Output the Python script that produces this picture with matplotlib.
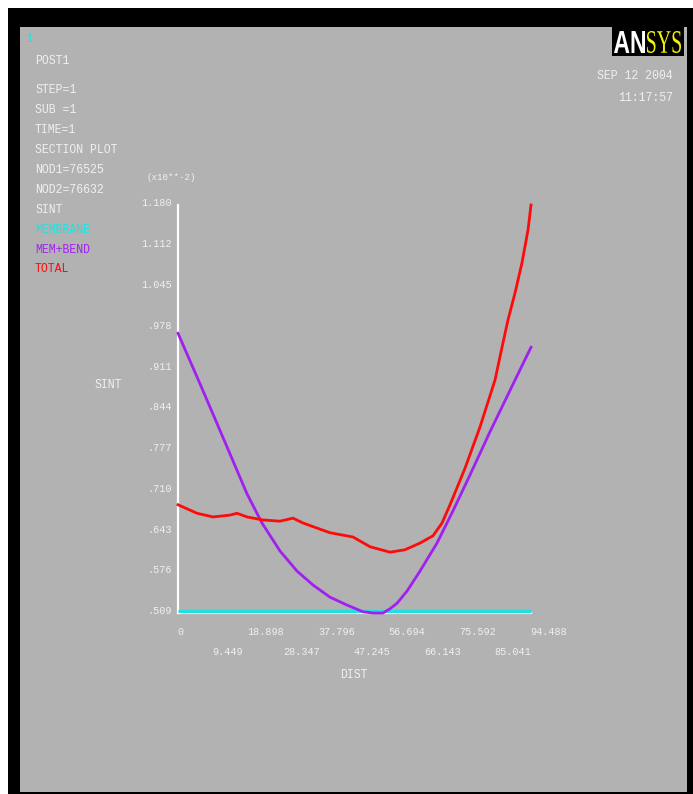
import matplotlib
matplotlib.use("Agg")
import matplotlib.pyplot as plt
import matplotlib.transforms as mtransforms
from matplotlib.patches import Rectangle, PathPatch
from matplotlib.textpath import TextPath
from matplotlib.font_manager import FontProperties
import numpy as np

# ---- data (SINT in units of 1e-2) ----
dist_total = [0, 5.09, 9.37, 13.92, 15.79, 18.47, 22.75, 27.30, 30.78, 33.46,
              40.69, 46.84, 51.39, 56.75, 60.76, 64.78, 68.26, 70.67, 72.81,
              76.82, 80.84, 84.85, 86.73, 88.33, 90.20, 92.08, 93.69, 94.488]
sint_total = [0.687, 0.673, 0.667, 0.670, 0.673, 0.667, 0.662, 0.660, 0.665, 0.657,
              0.641, 0.634, 0.618, 0.609, 0.613, 0.624, 0.636, 0.657, 0.687,
              0.747, 0.815, 0.892, 0.946, 0.991, 1.035, 1.085, 1.139, 1.180]

dist_bend = [0, 5.89, 12.58, 18.47, 22.48, 27.30, 31.85, 36.14, 40.69, 45.24,
             49.52, 52.20, 54.88, 56.75, 58.62, 61.30, 64.78, 69.33, 73.61, 78.16,
             83.51, 90.20, 94.488]
sint_bend = [0.969, 0.886, 0.790, 0.705, 0.657, 0.611, 0.578, 0.555, 0.535, 0.522,
             0.511, 0.509, 0.509, 0.516, 0.525, 0.545, 0.578, 0.624, 0.677, 0.736,
             0.807, 0.892, 0.946]

dist_membrane = [0, 94.488]
sint_membrane = [0.513, 0.513]

y_ticks = [0.509, 0.576, 0.643, 0.710, 0.777, 0.844, 0.911, 0.978, 1.045, 1.112, 1.180]
y_labels = [".509", ".576", ".643", ".710", ".777", ".844", ".911", ".978",
            "1.045", "1.112", "1.180"]
x_ticks = [0, 9.449, 18.898, 28.347, 37.796, 47.245, 56.694, 66.143, 75.592, 85.041, 94.488]
x_labels = ["0", "9.449", "18.898", "28.347", "37.796", "47.245", "56.694",
            "66.143", "75.592", "85.041", "94.488"]

info_lines = ["POST1", "STEP=1", "SUB =1", "TIME=1", "SECTION PLOT",
              "NOD1=76525", "NOD2=76632", "SINT"]
legend_names = ["MEMBRANE", "MEM+BEND", "TOTAL"]

# ---- style ----
W, H = 693, 794
BG = "#b2b2b2"
TXT = "#f0f0f0"
CYAN = "#22e0e0"
PURPLE = "#a020f0"
RED = "#ff0a0a"
MONO = ["Liberation Mono", "DejaVu Sans Mono"]

fig = plt.figure(figsize=(W / 100, H / 100), dpi=100, facecolor="white")


def fx(px):
    return px / W


def fy(py):
    return 1 - py / H


# window frame
fig.patches.append(Rectangle((fx(8), 0), 1 - fx(8), fy(8), transform=fig.transFigure,
                             facecolor="black", edgecolor="none", zorder=0))
fig.patches.append(Rectangle((fx(20), fy(792)), fx(687) - fx(20), fy(27) - fy(792),
                             transform=fig.transFigure, facecolor=BG, edgecolor="none", zorder=0))

# logo box with condensed lettering
fig.patches.append(Rectangle((fx(612), fy(56)), fx(684) - fx(612), fy(27) - fy(56),
                             transform=fig.transFigure, facecolor="black", edgecolor="none", zorder=1))


def logo_word(text, fam, weight, x0, x1, y_top, y_bot, color):
    tp = TextPath((0, 0), text, size=10, prop=FontProperties(family=fam, weight=weight))
    ext = tp.get_extents()
    sx = (x1 - x0) / ext.width
    sy = (y_bot - y_top) / ext.height
    tr = (mtransforms.Affine2D().translate(-ext.x0, -ext.y0).scale(sx, sy)
          .translate(x0, H - y_bot))
    fig.patches.append(PathPatch(tr.transform_path(tp), facecolor=color, edgecolor="none",
                                 transform=mtransforms.IdentityTransform(), zorder=2))


logo_word("AN", ["Liberation Sans"], "bold", 614, 645, 31, 53, "white")
logo_word("SYS", ["Liberation Serif"], "normal", 647, 681, 31, 53, "#f2f20a")

# date / time
fig.text(fx(673), fy(76), "SEP 12 2004", color=TXT, fontsize=8.3, family=MONO, ha="right", va="center")
fig.text(fx(673), fy(98), "11:17:57", color=TXT, fontsize=8.3, family=MONO, ha="right", va="center")

# window number
fig.text(fx(25), fy(39), "1", color=CYAN, fontsize=9, family=MONO, ha="left", va="center")

# info block
info_y = [61, 90, 110, 130, 150, 170, 190, 210]
for s, y in zip(info_lines, info_y):
    fig.text(fx(35), fy(y), s, color=TXT, fontsize=8.3, family=MONO, ha="left", va="center")
for s, y, c in zip(legend_names, [230, 250, 269], [CYAN, PURPLE, RED]):
    fig.text(fx(35), fy(y), s, color=c, fontsize=8.3, family=MONO, ha="left", va="center")

# ---- plot area ----
ax = fig.add_axes([fx(178), fy(613), fx(531) - fx(178), fy(205) - fy(613)])
ax.set_zorder(3)
ax.set_facecolor("none")
ax.set_xlim(0, 94.488)
ax.set_ylim(0.509, 1.180)
for side in ["top", "right"]:
    ax.spines[side].set_visible(False)
for side in ["left", "bottom"]:
    ax.spines[side].set_color("white")
    ax.spines[side].set_linewidth(1.6)
ax.set_xticks([])
ax.set_yticks([])

ax.plot(dist_membrane, sint_membrane, color=CYAN, lw=2.4, solid_capstyle="butt", clip_on=False, zorder=3)
ax.plot(dist_bend, sint_bend, color=PURPLE, lw=2.0, clip_on=False, zorder=4,
        solid_joinstyle="round")
ax.plot(dist_total, sint_total, color=RED, lw=2.0, clip_on=False, zorder=5,
        solid_joinstyle="round")

# y tick labels
ytr = mtransforms.blended_transform_factory(fig.transFigure, ax.transData)
yoff = mtransforms.ScaledTranslation(0, 2 / 100, fig.dpi_scale_trans)
for v, s in zip(y_ticks, y_labels):
    fig.text(fx(172), v, s, transform=ytr + yoff, color=TXT, fontsize=7.3,
             family=MONO, ha="right", va="center", zorder=4)

# x tick labels, alternating rows
xtr = mtransforms.blended_transform_factory(ax.transData, fig.transFigure)
for i, (v, s) in enumerate(zip(x_ticks, x_labels)):
    row_y = 632 if i % 2 == 0 else 652
    ax.text(v - 0.3, fy(row_y), s, transform=xtr, color=TXT, fontsize=7.3,
            family=MONO, ha="left", va="center", clip_on=False)

fig.text(fx(354), fy(675), "DIST", color=TXT, fontsize=8.3, family=MONO, ha="center", va="center")
fig.text(fx(108), fy(385), "SINT", color=TXT, fontsize=8.3, family=MONO, ha="center", va="center")
fig.text(fx(146), fy(177), "(x10**-2)", color=TXT, fontsize=6.6, family=MONO, ha="left", va="center")

fig.savefig("out.png", dpi=100, facecolor="white")
